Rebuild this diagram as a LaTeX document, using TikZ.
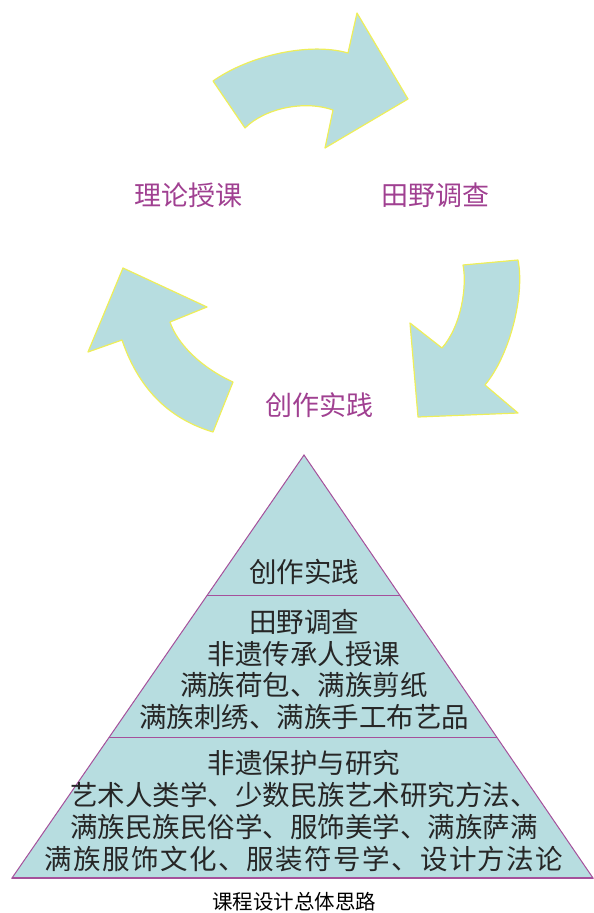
\documentclass[tikz,border=0pt]{standalone}
\usepackage{fontspec}
\setmainfont{Noto Sans CJK SC}
\newfontfamily\widecjk[LetterSpace=5]{Noto Sans CJK SC}
\usetikzlibrary{calc}
\definecolor{pyrfill}{RGB}{183,221,224}
\definecolor{pyredge}{RGB}{165,80,155}
\definecolor{arrowedge}{RGB}{238,238,90}
\definecolor{labelpurple}{RGB}{160,64,145}

\begin{document}
\begin{tikzpicture}[x=1pt,y=-1pt,
        cyclelabel/.style={text=labelpurple, font=\fontsize{27}{30}\selectfont, inner sep=0pt},
        tiertext/.style={align=center, text=black!85, font=\fontsize{27.5}{31.7}\selectfont, inner sep=0pt},
        bigarrow/.style={fill=pyrfill, draw=arrowedge, line width=1.2pt, line join=round},
        tierline/.style={draw=pyredge, line width=1pt}]
        \useasboundingbox (0,0) rectangle (594,913);

        \path[bigarrow] (213,81) .. controls (250,55) and (310,42) .. (348,53) -- (357,13) -- (408,99)
                -- (325,148) -- (333,110) .. controls (305,100) and (265,108) .. (245,128) -- cycle;
        \path[bigarrow] (518,260) -- (463,265) .. controls (467,285) and (462,325) .. (442,348) -- (410,323)
                -- (418,417) -- (518,413) -- (485,385) .. controls (510,355) and (525,295) .. (518,260) -- cycle;
        \path[bigarrow] (233,382) .. controls (200,367) and (177,343) .. (170,322) -- (207,307) -- (123,268)
                -- (88,352) -- (122,340) .. controls (140,393) and (173,420) .. (213,432) -- cycle;

        \node[cyclelabel] (theory) at (188,195) {理论授课};
        \node[cyclelabel] (field) at (435,195) {田野调查};
        \node[cyclelabel] (practice) at (319,405) {创作实践};

        \coordinate (apex) at (304,455);
        \coordinate (baseL) at (12,878);
        \coordinate (baseR) at (593,878);
        \path[tierline, fill=pyrfill] (apex) -- (baseL) -- (baseR) -- cycle;
        \draw[tierline] ($(apex)!0.331!(baseL)$) -- ($(apex)!0.331!(baseR)$);
        \draw[tierline] ($(apex)!0.667!(baseL)$) -- ($(apex)!0.667!(baseR)$);
        \draw[tierline, line width=1.6pt] (baseL) -- (baseR);

        \node[tiertext] (tiertop) at (304,572) {创作实践};
        \node[tiertext] (tiermid) at (304,669.5) {田野调查\\非遗传承人授课\\满族荷包、满族剪纸\\满族刺绣、满族手工布艺品};
        \node[tiertext] (tierbase) at (304,811) {非遗保护与研究\\艺术人类学、少数民族艺术研究方法、\\满族民族民俗学、服饰美学、满族萨满\\{\widecjk 满族服饰文化、服装符号学、设计方法论}};

        \node[font=\fontsize{20.5}{24}\selectfont, inner sep=0pt] (caption) at (294,902) {课程设计总体思路};
    \end{tikzpicture}
\end{document}
